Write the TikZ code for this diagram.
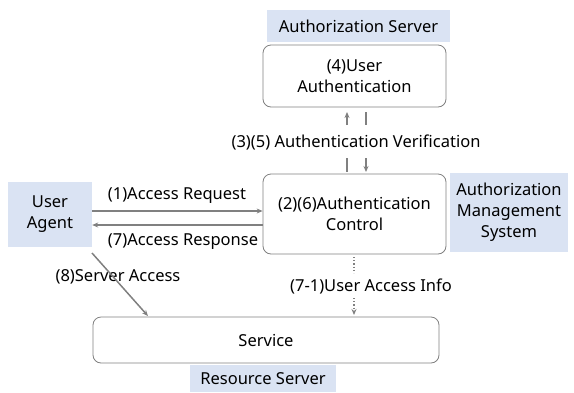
\documentclass[tikz,border=0pt]{standalone}
\usepackage{fontspec}
\setmainfont{Noto Sans}
\usetikzlibrary{arrows.meta}
\definecolor{lblue}{HTML}{DAE3F3}
\definecolor{agray}{HTML}{808080}
\tikzset{
  lab/.style={fill=lblue, inner sep=0pt, align=center},
  rbox/.style={draw=agray, line width=0.8pt, rounded corners=8pt, fill=white, inner sep=0pt, align=center},
  txt/.style={inner sep=0pt, align=center},
  conn/.style={draw=agray, line width=1.5pt},
  tip/.style={-{Stealth[length=6pt,width=5pt]}},
  dot/.style={draw=agray, line width=1.2pt, dotted}
}
\begin{document}
\begin{tikzpicture}[x=1pt,y=-1pt,font=\fontsize{16.5}{21}\selectfont]
\useasboundingbox (0,0) rectangle (574,392);
\node[lab, minimum width=183pt, minimum height=32pt] (authsrv) at (358.5,26) {Authorization Server};
\node[rbox, minimum width=183pt, minimum height=62pt] (userauth) at (354.5,76) {(4)User\\Authentication};
\node[rbox, minimum width=183pt, minimum height=80pt] (ctrl) at (354.5,214) {(2)(6)Authentication\\Control};
\node[lab, minimum width=84pt, minimum height=65pt] (ua) at (50,214.5) {User\\Agent};
\node[lab, minimum width=118pt, minimum height=79pt] (ams) at (509,212.5) {Authorization\\Management\\System};
\node[rbox, minimum width=346pt, minimum height=46pt] (service) at (266,340) {Service};
\node[lab, minimum width=146pt, minimum height=27pt] (ressrv) at (263,378.5) {Resource Server};

\node[txt] (verif) at (356,142) {(3)(5) Authentication Verification};
\node[txt] (req) at (177,196) {(1)Access Request};
\node[txt] (resp) at (183,242) {(7)Access Response};
\node[txt] (sacc) at (118,277) {(8)Server Access};
\node[txt] (uinfo) at (371,286) {(7-1)User Access Info};

\coordinate (a1) at (347,125); \coordinate (a2) at (347,112);
\coordinate (b1) at (366,112); \coordinate (b2) at (366,125);
\coordinate (c1) at (347,158); \coordinate (c2) at (347,172);
\coordinate (d1) at (366,158); \coordinate (d2) at (366,172);
\draw[conn,tip] (a1) -- (a2);
\draw[conn] (b1) -- (b2);
\draw[conn] (c1) -- (c2);
\draw[conn,tip] (d1) -- (d2);

\draw[conn,tip] (ua.east |- 0,211) -- (ctrl.west |- 0,211);
\draw[conn,tip] (ctrl.west |- 0,225) -- (ua.east |- 0,225);

\coordinate (s1) at (92,253); \coordinate (s2) at (148,316);
\draw[conn,tip] (s1) -- (s2);

\coordinate (e1) at (354,257); \coordinate (e2) at (354,273);
\coordinate (f1) at (354,298); \coordinate (f2) at (354,315);
\draw[dot] (e1) -- (e2);
\draw[dot,tip] (f1) -- (f2);
\end{tikzpicture}
\end{document}
